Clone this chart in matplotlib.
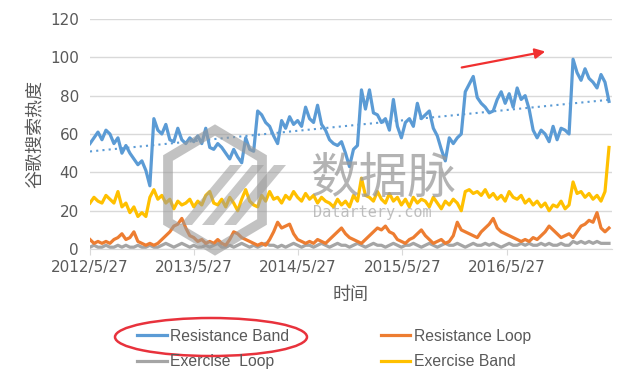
import datetime as dt
import numpy as np
import matplotlib
matplotlib.use("Agg")
import matplotlib.pyplot as plt
from matplotlib.patches import Ellipse, Polygon, FancyArrowPatch

# biweekly google trends readings, 2012/5/27 .. 2017/5/21
start = dt.date(2012, 5, 27)

resistance_band = [
    55, 58, 61, 57, 62, 60, 55, 58, 50, 54,
    50, 47, 44, 46, 41, 33, 68, 62, 60, 65,
    57, 56, 63, 57, 55, 58, 56, 59, 55, 63,
    53, 52, 55, 53, 50, 47, 52, 48, 45, 58,
    52, 51, 72, 70, 66, 64, 59, 55, 67, 63,
    69, 65, 67, 64, 74, 68, 66, 75, 65, 62,
    57, 55, 54, 56, 50, 43, 52, 54, 83, 73,
    83, 71, 70, 66, 68, 62, 78, 64, 58, 66,
    68, 64, 76, 68, 70, 72, 63, 59, 52, 46,
    58, 55, 58, 60, 82, 86, 90, 79, 76, 74,
    71, 72, 78, 82, 76, 81, 74, 84, 78, 80,
    73, 62, 58, 62, 60, 56, 64, 57, 63, 62,
    60, 99, 92, 88, 94, 89, 87, 84, 91, 87,
    77,
]

resistance_loop = [
    5, 3, 4, 3, 4, 3, 5, 6, 8, 5,
    6, 9, 4, 3, 2, 3, 2, 3, 5, 7,
    9, 12, 13, 16, 11, 7, 6, 4, 5, 3,
    4, 3, 5, 3, 2, 5, 9, 8, 6, 5,
    4, 3, 2, 3, 2, 5, 9, 14, 11, 12,
    13, 8, 5, 4, 3, 4, 3, 5, 4, 3,
    5, 7, 9, 11, 8, 6, 5, 4, 3, 5,
    7, 9, 11, 10, 12, 9, 8, 5, 4, 3,
    5, 6, 8, 10, 7, 5, 3, 4, 5, 3,
    4, 7, 14, 10, 9, 8, 7, 6, 9, 11,
    13, 16, 11, 9, 8, 7, 6, 5, 4, 5,
    4, 6, 5, 7, 9, 12, 10, 8, 6, 7,
    8, 6, 9, 12, 13, 15, 14, 19, 11, 9,
    11,
]

exercise_loop = [
    1, 2, 1, 1, 2, 1, 1, 2, 1, 2,
    1, 1, 2, 1, 1, 2, 1, 1, 2, 3,
    2, 1, 2, 3, 2, 1, 2, 1, 1, 2,
    1, 2, 3, 1, 1, 2, 1, 2, 3, 2,
    1, 2, 1, 2, 3, 2, 2, 1, 2, 1,
    2, 3, 2, 1, 2, 2, 1, 2, 3, 2,
    1, 2, 3, 2, 2, 1, 2, 3, 2, 1,
    2, 3, 2, 2, 1, 2, 3, 2, 1, 2,
    2, 3, 2, 1, 2, 3, 2, 1, 2, 3,
    2, 2, 3, 2, 1, 2, 3, 2, 2, 3,
    2, 3, 2, 1, 2, 3, 2, 2, 3, 2,
    3, 2, 2, 3, 2, 3, 2, 2, 3, 2,
    2, 4, 3, 4, 3, 4, 3, 4, 3, 3,
    3,
]

exercise_band = [
    24, 27, 25, 24, 28, 26, 24, 30, 22, 24,
    19, 22, 17, 19, 17, 27, 31, 26, 28, 24,
    26, 21, 25, 23, 24, 26, 22, 25, 23, 28,
    30, 24, 23, 26, 22, 27, 24, 20, 26, 31,
    25, 23, 22, 28, 25, 30, 26, 27, 24, 28,
    26, 30, 27, 25, 29, 26, 28, 24, 27, 25,
    24, 22, 26, 23, 25, 22, 28, 25, 37, 28,
    27, 25, 30, 26, 24, 29, 25, 27, 23, 26,
    22, 27, 24, 26, 25, 22, 27, 24, 21, 25,
    23, 26, 24, 20, 30, 31, 29, 30, 28, 31,
    27, 29, 26, 28, 25, 30, 27, 26, 28, 24,
    26, 23, 25, 22, 24, 20, 23, 22, 25, 21,
    23, 35, 29, 30, 27, 29, 26, 28, 25, 30,
    53,
]

tick_years = [2012, 2013, 2014, 2015, 2016]

dates = [start + dt.timedelta(days=14 * i) for i in range(len(resistance_band))]

plt.rcParams['font.family'] = ['DejaVu Sans']
cjk = ['Noto Sans CJK SC', 'DejaVu Sans']
grey_txt = '#595959'

fig = plt.figure(figsize=(6.4, 3.78), dpi=100)
ax = fig.add_axes([0.1406, 0.341, 0.8154, 0.609])

lw = 2.3
ax.plot(dates, exercise_loop, color='#A5A5A5', lw=lw, label='Exercise  Loop')
ax.plot(dates, resistance_loop, color='#ED7D31', lw=lw, label='Resistance Loop')
ax.plot(dates, exercise_band, color='#FFC000', lw=lw, label='Exercise Band')
ax.plot(dates, resistance_band, color='#5B9BD5', lw=lw, label='Resistance Band')

# linear trendline of the blue series
idx = np.arange(len(resistance_band))
k, b = np.polyfit(idx, resistance_band, 1)
ax.plot(dates, k * idx + b, color='#5B9BD5', lw=1.5, ls=(0, (1, 2)))

ax.set_ylim(0, 120)
ax.set_yticks(range(0, 121, 20))
ax.set_xlim(start, start + dt.timedelta(days=1830))
ticks = [dt.date(y, 5, 27) for y in tick_years]
ax.set_xticks(ticks)
ax.set_xticklabels([f"{d.year}/{d.month}/{d.day}" for d in ticks])
ax.grid(axis='y', color='#D9D9D9', lw=1)
ax.set_axisbelow(True)
for s in ['top', 'right', 'left']:
    ax.spines[s].set_visible(False)
ax.spines['bottom'].set_color('#D9D9D9')
ax.tick_params(axis='y', length=0, labelsize=11, labelcolor=grey_txt, pad=8)
ax.tick_params(axis='x', length=4, color='#D9D9D9', labelsize=11, labelcolor=grey_txt)

ax.set_ylabel('谷歌搜索热度', family=cjk, fontsize=13, color=grey_txt, labelpad=4)
ax.set_xlabel('时间', family=cjk, fontsize=13, color=grey_txt, labelpad=8)

# watermark
fig.text(0.485, 0.525, '数据脉', family=cjk, fontsize=35, color='#9a9a9a',
         alpha=0.75, ha='left', va='center')
fig.text(0.489, 0.438, 'Datartery.com', fontsize=11, color='#b0b0b0',
         alpha=0.8, ha='left', va='center', family='DejaVu Sans Mono')
W, H = 640, 378
def fp(pts):
    return [(x / W, 1 - y / H) for x, y in pts]
hexo = [(215, 130), (262, 158), (262, 222), (215, 250), (168, 222), (168, 158)]
fig.patches.append(Polygon(fp(hexo), closed=True, fill=False, ec='#9a9a9a',
                           lw=7, alpha=0.6, transform=fig.transFigure))
for off in [0, 22, 44]:
    stripe = [(180 + off, 225), (230 + off, 165), (242 + off, 165), (192 + off, 225)]
    fig.patches.append(Polygon(fp(stripe), closed=True, fc='#9a9a9a', ec='none',
                               alpha=0.55, transform=fig.transFigure))

# legend
handles, labels = ax.get_legend_handles_labels()
order = [3, 0, 1, 2]
fig.legend([handles[i] for i in order], [labels[i] for i in order],
           loc='center', bbox_to_anchor=(0.522, 0.077), ncol=2, frameon=False,
           handlelength=1.9, handletextpad=0.2, columnspacing=5.8,
           labelspacing=0.65, prop={'family': 'Liberation Sans', 'size': 11.3},
           labelcolor=grey_txt)

# red highlights
fig.patches.append(Ellipse((211 / W, 1 - 337 / H), 192 / W, 38 / H, fill=False,
                           ec='#E8323C', lw=1.8, transform=fig.transFigure))
fig.add_artist(FancyArrowPatch(
    (459 / W, 1 - 68 / H), (548 / W, 1 - 51 / H), transform=fig.transFigure,
    arrowstyle='-|>,head_length=6,head_width=3', color='#F03030', lw=1.6))

fig.savefig('out.png', dpi=100, facecolor='white')
